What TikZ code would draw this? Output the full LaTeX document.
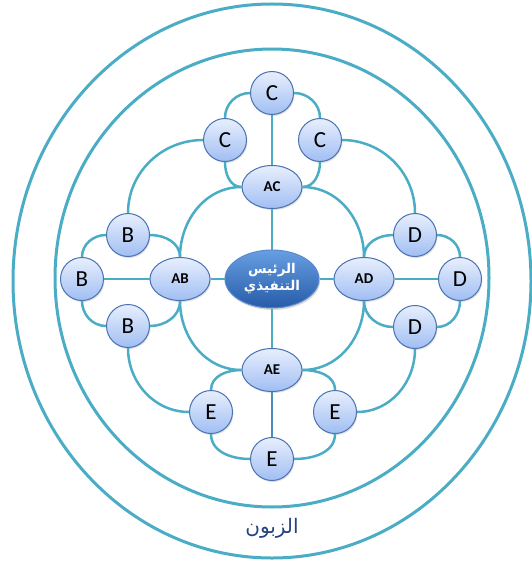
\documentclass[tikz,border=0pt]{standalone}
\usepackage{fontspec}
\setmainfont{Carlito}
\newfontfamily\arabicfont[Script=Arabic]{DejaVu Sans}
\TeXXeTstate=1
\usetikzlibrary{shapes.geometric,shadows}
\definecolor{ringteal}{RGB}{75,172,198}
\definecolor{leaftop}{RGB}{232,239,253}
\definecolor{leafbot}{RGB}{160,190,243}
\definecolor{leafedge}{RGB}{74,114,178}
\definecolor{chieftop}{RGB}{104,158,226}
\definecolor{chiefbot}{RGB}{38,92,168}
\definecolor{chiefedge}{RGB}{90,138,206}
\definecolor{custblue}{RGB}{36,66,124}
\tikzset{
  leaf/.style={circle, draw=leafedge, line width=1pt, top color=leaftop, bottom color=leafbot,
    minimum size=43pt, inner sep=0pt, font=\fontsize{23}{23}\selectfont,
    drop shadow={opacity=0.25, shadow xshift=1pt, shadow yshift=-1.5pt}},
  hub/.style={ellipse, draw=leafedge, line width=1pt, top color=leaftop, bottom color=leafbot,
    minimum width=60pt, minimum height=43pt, inner sep=0pt, font=\fontsize{15}{15}\selectfont\bfseries,
    drop shadow={opacity=0.25, shadow xshift=1pt, shadow yshift=-1.5pt}},
  chief/.style={ellipse, draw=chiefedge, line width=1pt, top color=chieftop, bottom color=chiefbot,
    minimum width=94pt, minimum height=58pt, inner sep=0pt, text=white, align=center,
    font=\arabicfont\bfseries\fontsize{13.5}{17}\selectfont,
    drop shadow={opacity=0.3, shadow xshift=1pt, shadow yshift=-2pt}},
  link/.style={draw=ringteal, line width=2.5pt},
  ring/.style={draw=ringteal, line width=3pt},
}
\begin{document}
\begin{tikzpicture}[x=1pt,y=1pt]
\useasboundingbox (0,0) rectangle (531,-564);
\draw [ring] (272,-281) ellipse [x radius=259, y radius=277];
\draw [ring] (272,-278) ellipse [x radius=217, y radius=229];
\node [chief] (ceo) at (272,-279) {\beginR الرئيس\endR\\\beginR التنفيذي\endR};
\node [hub] (ac) at (272,-187) {AC};
\node [hub] (ab) at (180,-279) {AB};
\node [hub] (ad) at (364,-279) {AD};
\node [hub] (ae) at (272,-370) {AE};
\node [leaf] (ct) at (272,-93) {C};
\node [leaf] (cl) at (225,-140) {C};
\node [leaf] (cr) at (320,-140) {C};
\node [leaf] (dt) at (415,-235) {D};
\node [leaf] (dr) at (460,-279) {D};
\node [leaf] (db) at (415,-327) {D};
\node [leaf] (bt) at (128,-235) {B};
\node [leaf] (bl) at (82,-279) {B};
\node [leaf] (bb) at (128,-326) {B};
\node [leaf] (el) at (211,-412) {E};
\node [leaf] (er) at (335,-412) {E};
\node [leaf] (eb) at (272,-459) {E};
\node [text=custblue, font=\arabicfont\fontsize{20}{20}\selectfont] (cust) at (272,-528) {\beginR الزبون\endR};
\draw [link] (ceo) -- (ac);
\draw [link] (ceo) -- (ab);
\draw [link] (ceo) -- (ad);
\draw [link] (ceo) -- (ae);
\draw [link] (ac) -- (ct);
\draw [link] (ab) -- (bl);
\draw [link] (ad) -- (dr);
\draw [link, line width=1.5pt, draw=leafedge!55!ringteal] (ae) -- (eb);
\draw [link] (ac) to[out=180,in=90] (ab);
\draw [link] (ac) to[out=0,in=90] (ad);
\draw [link] (ae) to[out=180,in=270] (ab);
\draw [link] (ae) to[out=0,in=270] (ad);
\draw [link] (ct) to[out=180,in=90] (cl);
\draw [link] (ct) to[out=0,in=90] (cr);
\draw [link] (cl) to[out=270,in=180] (ac);
\draw [link] (cr) to[out=270,in=0] (ac);
\draw [link] (dt) to[out=0,in=90] (dr);
\draw [link] (dt) to[out=180,in=90] (ad);
\draw [link] (db) to[out=0,in=270] (dr);
\draw [link] (db) to[out=180,in=270] (ad);
\draw [link] (bt) to[out=180,in=90] (bl);
\draw [link] (bt) to[out=0,in=90] (ab);
\draw [link] (bb) to[out=180,in=270] (bl);
\draw [link] (bb) to[out=0,in=270] (ab);
\draw [link] (ae) to[out=180,in=90] (el);
\draw [link] (ae) to[out=0,in=90] (er);
\draw [link] (el) to[out=270,in=180] (eb);
\draw [link] (er) to[out=270,in=0] (eb);
\draw [link] (cl) to[out=180,in=90] (bt);
\draw [link] (cr) to[out=0,in=90] (dt);
\draw [link] (bb) to[out=270,in=180] (el);
\draw [link] (db) to[out=270,in=0] (er);
\end{tikzpicture}
\end{document}
